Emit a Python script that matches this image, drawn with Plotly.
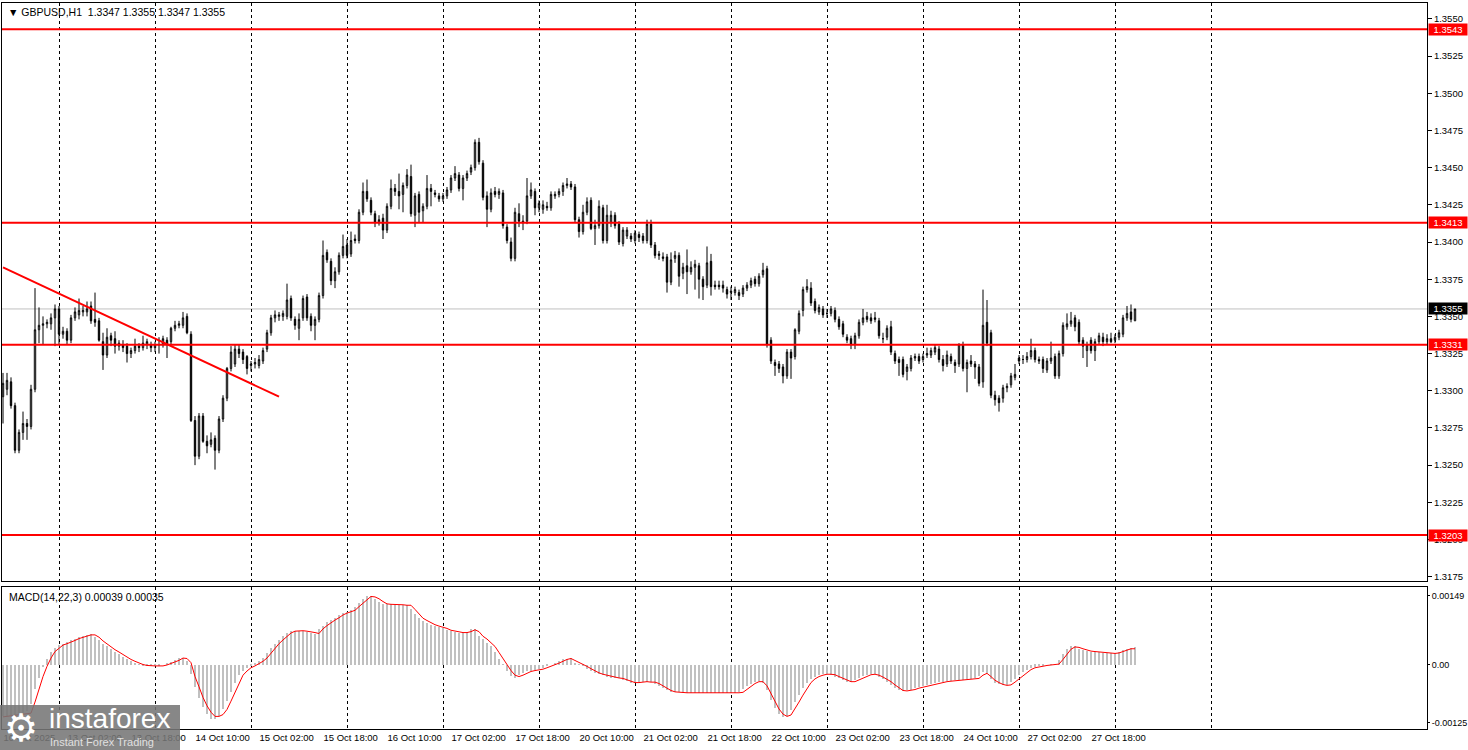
import numpy as np
import plotly.graph_objects as go

# GBPUSD H1, 10 Oct 2025 10:00 .. 28 Oct 2025 05:00 (one row per trading day)
open_ = [
    1.3296,1.3301,1.3306,1.3290,1.3260,1.3272,1.3278,1.3276,1.3301,1.3341,1.3344,1.3345,1.3345,1.3349,
    1.3355,1.3338,1.3340,1.3334,1.3349,1.3351,1.3353,1.3353,1.3357,1.3348,1.3347,1.3333,1.3324,1.3337,1.3335,1.3330,1.3331,1.3330,1.3325,1.3327,1.3330,1.3329,1.3331,1.3331,
    1.3329,1.3331,1.3331,1.3334,1.3333,1.3342,1.3344,1.3344,1.3350,1.3338,1.3280,1.3256,1.3283,1.3266,1.3264,1.3268,1.3260,1.3281,1.3295,1.3315,1.3318,1.3328,1.3326,1.3323,
    1.3317,1.3318,1.3317,1.3320,1.3328,1.3339,1.3349,1.3350,1.3350,1.3350,1.3362,1.3348,1.3342,1.3349,1.3363,1.3350,1.3344,1.3348,1.3364,1.3393,1.3387,1.3374,1.3380,1.3391,
    1.3398,1.3392,1.3402,1.3401,1.3420,1.3434,1.3428,1.3419,1.3413,1.3416,1.3408,1.3424,1.3436,1.3434,1.3432,1.3438,1.3444,1.3418,1.3432,1.3421,1.3424,1.3436,1.3433,1.3431,
    1.3429,1.3431,1.3435,1.3443,1.3445,1.3436,1.3443,1.3447,1.3450,1.3467,1.3453,1.3431,1.3422,1.3434,1.3432,1.3433,1.3410,1.3400,1.3389,1.3419,1.3414,1.3414,1.3431,1.3434,
    1.3423,1.3422,1.3424,1.3423,1.3431,1.3432,1.3434,1.3438,1.3439,1.3437,1.3415,1.3407,1.3420,1.3428,1.3409,1.3411,1.3423,1.3401,1.3413,1.3418,1.3412,1.3399,1.3404,1.3404,
    1.3401,1.3405,1.3404,1.3401,1.3412,1.3398,1.3392,1.3390,1.3390,1.3373,1.3389,1.3391,1.3379,1.3384,1.3380,1.3383,1.3384,1.3375,1.3371,1.3387,1.3371,1.3371,1.3371,1.3368,
    1.3366,1.3366,1.3366,1.3365,1.3369,1.3371,1.3375,1.3372,1.3378,1.3382,1.3334,1.3319,1.3318,1.3316,1.3310,1.3326,1.3323,1.3340,1.3354,1.3368,1.3369,1.3360,1.3353,1.3355,
    1.3352,1.3352,1.3354,1.3348,1.3345,1.3336,1.3335,1.3331,1.3337,1.3346,1.3350,1.3349,1.3349,1.3347,1.3335,1.3336,1.3343,1.3325,1.3321,1.3321,1.3313,1.3315,1.3322,1.3323,
    1.3321,1.3324,1.3324,1.3326,1.3328,1.3321,1.3318,1.3323,1.3319,1.3318,1.3331,1.3315,1.3320,1.3318,1.3316,1.3306,1.3346,1.3339,1.3297,1.3295,1.3295,1.3302,1.3304,1.3309,
    1.3322,1.3321,1.3321,1.3323,1.3327,1.3321,1.3321,1.3314,1.3320,1.3323,1.3310,1.3325,1.3343,1.3345,1.3349,1.3346,1.3334,1.3327,1.3334,1.3327,1.3333,1.3336,1.3333,1.3335,
    1.3334,1.3336,1.3338,1.3349,1.3353,1.3347,
]
high = [
    1.3312,1.3312,1.3309,1.3292,1.3274,1.3286,1.3281,1.3304,1.3369,1.3356,1.3350,1.3348,1.3352,1.3358,
    1.3357,1.3343,1.3342,1.3351,1.3356,1.3362,1.3357,1.3360,1.3360,1.3366,1.3349,1.3339,1.3342,1.3339,1.3340,1.3334,1.3334,1.3332,1.3329,1.3335,1.3332,1.3337,1.3335,1.3333,
    1.3333,1.3336,1.3337,1.3336,1.3343,1.3347,1.3347,1.3353,1.3352,1.3340,1.3283,1.3285,1.3285,1.3270,1.3272,1.3270,1.3283,1.3297,1.3316,1.3330,1.3331,1.3331,1.3328,1.3324,
    1.3320,1.3322,1.3324,1.3329,1.3341,1.3351,1.3354,1.3353,1.3354,1.3372,1.3364,1.3350,1.3352,1.3364,1.3365,1.3352,1.3350,1.3366,1.3401,1.3395,1.3389,1.3383,1.3393,1.3405,
    1.3402,1.3407,1.3405,1.3422,1.3440,1.3442,1.3430,1.3421,1.3418,1.3419,1.3426,1.3442,1.3439,1.3446,1.3440,1.3449,1.3452,1.3433,1.3434,1.3426,1.3445,1.3439,1.3435,1.3433,
    1.3433,1.3437,1.3445,1.3451,1.3447,1.3445,1.3448,1.3452,1.3469,1.3470,1.3455,1.3434,1.3436,1.3437,1.3436,1.3435,1.3412,1.3403,1.3423,1.3426,1.3418,1.3443,1.3440,1.3436,
    1.3428,1.3428,1.3427,1.3434,1.3434,1.3436,1.3440,1.3443,1.3441,1.3439,1.3417,1.3425,1.3430,1.3430,1.3415,1.3428,1.3425,1.3425,1.3421,1.3420,1.3414,1.3410,1.3410,1.3406,
    1.3408,1.3407,1.3406,1.3415,1.3415,1.3400,1.3394,1.3393,1.3392,1.3393,1.3394,1.3393,1.3386,1.3395,1.3387,1.3388,1.3386,1.3377,1.3397,1.3392,1.3374,1.3374,1.3374,1.3370,
    1.3370,1.3370,1.3368,1.3371,1.3373,1.3376,1.3377,1.3379,1.3386,1.3384,1.3336,1.3321,1.3320,1.3318,1.3328,1.3328,1.3342,1.3354,1.3370,1.3375,1.3373,1.3362,1.3358,1.3357,
    1.3355,1.3357,1.3356,1.3350,1.3347,1.3338,1.3337,1.3339,1.3348,1.3355,1.3353,1.3352,1.3353,1.3349,1.3339,1.3344,1.3347,1.3327,1.3323,1.3323,1.3318,1.3324,1.3325,1.3325,
    1.3325,1.3329,1.3329,1.3331,1.3330,1.3324,1.3327,1.3325,1.3321,1.3332,1.3333,1.3321,1.3324,1.3320,1.3318,1.3368,1.3361,1.3341,1.3300,1.3297,1.3304,1.3305,1.3312,1.3318,
    1.3324,1.3324,1.3326,1.3335,1.3329,1.3323,1.3323,1.3322,1.3333,1.3325,1.3327,1.3346,1.3352,1.3353,1.3351,1.3348,1.3336,1.3333,1.3336,1.3335,1.3339,1.3339,1.3338,1.3339,
    1.3338,1.3341,1.3351,1.3357,1.3358,1.3355,
]
low = [
    1.3278,1.3297,1.3288,1.3258,1.3258,1.3267,1.3267,1.3274,1.3299,1.3332,1.3331,1.3342,1.3341,1.3330,
    1.3331,1.3335,1.3331,1.3332,1.3347,1.3348,1.3350,1.3350,1.3345,1.3343,1.3333,1.3314,1.3322,1.3330,1.3325,1.3327,1.3326,1.3319,1.3322,1.3325,1.3326,1.3327,1.3328,1.3326,
    1.3326,1.3325,1.3329,1.3322,1.3331,1.3340,1.3342,1.3342,1.3338,1.3279,1.3250,1.3254,1.3265,1.3258,1.3262,1.3247,1.3258,1.3279,1.3293,1.3313,1.3316,1.3322,1.3318,1.3311,
    1.3313,1.3315,1.3315,1.3318,1.3326,1.3337,1.3346,1.3347,1.3347,1.3348,1.3347,1.3341,1.3334,1.3347,1.3347,1.3340,1.3334,1.3346,1.3362,1.3386,1.3371,1.3369,1.3378,1.3389,
    1.3389,1.3390,1.3399,1.3399,1.3418,1.3427,1.3418,1.3410,1.3411,1.3402,1.3406,1.3422,1.3431,1.3422,1.3420,1.3436,1.3417,1.3410,1.3413,1.3413,1.3422,1.3424,1.3430,1.3427,
    1.3427,1.3429,1.3433,1.3441,1.3434,1.3428,1.3441,1.3445,1.3448,1.3452,1.3428,1.3410,1.3420,1.3430,1.3429,1.3409,1.3399,1.3387,1.3387,1.3410,1.3408,1.3412,1.3429,1.3418,
    1.3420,1.3419,1.3421,1.3421,1.3429,1.3430,1.3431,1.3436,1.3435,1.3413,1.3403,1.3405,1.3418,1.3408,1.3398,1.3409,1.3399,1.3399,1.3410,1.3409,1.3398,1.3397,1.3402,1.3400,
    1.3399,1.3400,1.3399,1.3399,1.3396,1.3389,1.3388,1.3387,1.3366,1.3371,1.3386,1.3370,1.3375,1.3365,1.3378,1.3368,1.3362,1.3361,1.3369,1.3364,1.3368,1.3368,1.3366,1.3362,
    1.3361,1.3364,1.3361,1.3363,1.3367,1.3369,1.3370,1.3370,1.3376,1.3329,1.3318,1.3310,1.3312,1.3305,1.3308,1.3308,1.3321,1.3338,1.3350,1.3366,1.3357,1.3352,1.3351,1.3349,
    1.3349,1.3350,1.3346,1.3341,1.3336,1.3332,1.3328,1.3328,1.3335,1.3344,1.3346,1.3345,1.3346,1.3335,1.3332,1.3334,1.3324,1.3318,1.3310,1.3309,1.3307,1.3313,1.3320,1.3318,
    1.3319,1.3322,1.3322,1.3324,1.3319,1.3313,1.3316,1.3318,1.3312,1.3316,1.3313,1.3299,1.3316,1.3308,1.3303,1.3302,1.3330,1.3295,1.3290,1.3286,1.3292,1.3299,1.3302,1.3307,
    1.3318,1.3318,1.3319,1.3321,1.3319,1.3318,1.3312,1.3312,1.3318,1.3308,1.3308,1.3323,1.3341,1.3343,1.3340,1.3331,1.3322,1.3316,1.3325,1.3320,1.3331,1.3330,1.3331,1.3332,
    1.3332,1.3334,1.3336,1.3347,1.3346,1.3347,
]
close = [
    1.3305,1.3307,1.3290,1.3260,1.3272,1.3278,1.3276,1.3301,1.3341,1.3344,1.3345,1.3346,1.3349,1.3355,
    1.3338,1.3340,1.3334,1.3349,1.3353,1.3354,1.3354,1.3355,1.3347,1.3346,1.3334,1.3324,1.3336,1.3334,1.3330,1.3332,1.3329,1.3325,1.3327,1.3330,1.3329,1.3332,1.3333,1.3329,
    1.3331,1.3331,1.3335,1.3331,1.3342,1.3344,1.3345,1.3349,1.3339,1.3280,1.3256,1.3283,1.3266,1.3263,1.3267,1.3260,1.3281,1.3295,1.3315,1.3326,1.3328,1.3325,1.3321,1.3315,
    1.3318,1.3319,1.3321,1.3327,1.3339,1.3349,1.3351,1.3351,1.3352,1.3361,1.3349,1.3344,1.3348,1.3362,1.3349,1.3344,1.3348,1.3364,1.3391,1.3388,1.3374,1.3380,1.3391,1.3397,
    1.3391,1.3401,1.3401,1.3420,1.3434,1.3429,1.3420,1.3413,1.3415,1.3408,1.3424,1.3436,1.3434,1.3431,1.3438,1.3445,1.3419,1.3431,1.3420,1.3424,1.3436,1.3434,1.3432,1.3429,
    1.3431,1.3435,1.3443,1.3446,1.3436,1.3443,1.3446,1.3450,1.3467,1.3454,1.3430,1.3422,1.3433,1.3432,1.3434,1.3411,1.3401,1.3389,1.3420,1.3414,1.3413,1.3431,1.3435,1.3423,
    1.3426,1.3425,1.3423,1.3432,1.3432,1.3434,1.3438,1.3439,1.3437,1.3415,1.3407,1.3420,1.3427,1.3409,1.3411,1.3424,1.3401,1.3418,1.3418,1.3411,1.3400,1.3408,1.3408,1.3402,
    1.3406,1.3403,1.3401,1.3412,1.3398,1.3391,1.3391,1.3389,1.3373,1.3388,1.3391,1.3377,1.3383,1.3380,1.3383,1.3385,1.3375,1.3370,1.3386,1.3370,1.3370,1.3370,1.3369,1.3365,
    1.3367,1.3368,1.3364,1.3369,1.3371,1.3374,1.3372,1.3377,1.3381,1.3331,1.3320,1.3317,1.3315,1.3310,1.3326,1.3322,1.3341,1.3352,1.3368,1.3370,1.3359,1.3354,1.3356,1.3351,
    1.3352,1.3355,1.3348,1.3343,1.3338,1.3334,1.3331,1.3337,1.3346,1.3349,1.3348,1.3347,1.3348,1.3337,1.3335,1.3342,1.3326,1.3320,1.3319,1.3311,1.3316,1.3322,1.3323,1.3320,
    1.3323,1.3325,1.3327,1.3329,1.3321,1.3317,1.3324,1.3320,1.3317,1.3331,1.3315,1.3319,1.3318,1.3316,1.3305,1.3344,1.3332,1.3297,1.3294,1.3292,1.3302,1.3303,1.3310,1.3311,
    1.3320,1.3321,1.3323,1.3327,1.3321,1.3320,1.3315,1.3320,1.3322,1.3310,1.3325,1.3344,1.3345,1.3347,1.3343,1.3333,1.3330,1.3331,1.3327,1.3333,1.3337,1.3333,1.3335,1.3333,
    1.3336,1.3339,1.3349,1.3352,1.3348,1.3355,
]

# MACD(14,22,3), values in 1e-5
macd_main_e5 = [
    -111,-110,-109,-108,-106,-105,-100,-85,-52,-27,-5,14,28,36,
    43,46,49,53,57,60,63,65,66,61,53,46,40,34,28,23,18,13,8,4,1,-1,-2,-2,
    -2,-2,0,3,6,10,15,16,8,-20,-47,-72,-90,-105,-116,-117,-110,-96,-78,-58,-38,-22,-13,-6,
    -2,3,8,15,26,36,46,54,62,69,73,74,74,73,72,70,67,78,85,92,97,102,108,112,
    115,118,126,134,142,148,149,143,137,132,131,131,130,130,129,129,121,110,101,96,91,87,84,82,
    79,75,73,71,70,70,72,77,78,62,56,48,40,27,14,2,-12,-23,-27,-22,-18,-14,-12,-11,
    -9,-6,-3,0,4,8,12,14,15,5,1,-3,-8,-13,-17,-20,-22,-25,-27,-28,-29,-32,-35,-38,
    -38,-37,-36,-37,-37,-40,-45,-50,-55,-58,-59,-59,-60,-60,-60,-60,-60,-60,-61,-61,-61,-61,-61,-61,
    -61,-60,-59,-52,-45,-40,-36,-35,-38,-55,-75,-92,-105,-113,-110,-97,-80,-65,-50,-38,-30,-25,-22,-20,
    -20,-21,-25,-29,-33,-36,-37,-32,-28,-24,-21,-20,-20,-26,-31,-36,-43,-50,-55,-57,-55,-53,-50,-48,
    -46,-43,-41,-39,-37,-36,-35,-34,-33,-32,-32,-31,-30,-29,-24,-16,-18,-30,-38,-42,-44,-44,-37,-30,
    -22,-16,-10,-6,-4,-2,-1,0,1,2,10,24,34,40,40,35,32,30,29,28,27,26,25,25,
    26,29,33,35,37,39,
]
macd_signal_e5 = [
    -112,-111,-110,-109,-107,-106,-105,-104,-80,-50,-25,-3,15,29,
    36,43,46,49,53,57,60,63,65,65,60,52,45,39,33,28,22,17,12,8,4,1,-1,-2,
    -2,-2,-2,0,3,6,10,15,14,5,-25,-47,-70,-88,-102,-111,-111,-107,-96,-78,-58,-38,-22,-13,
    -6,-2,3,8,15,26,36,46,54,62,69,73,74,74,73,72,70,68,78,85,92,97,102,108,
    112,115,118,126,134,142,148,147,143,137,132,131,131,130,130,129,129,120,110,101,96,91,87,84,
    82,79,75,73,71,70,70,72,76,72,62,56,48,40,27,14,2,-12,-22,-25,-22,-18,-14,-12,
    -11,-9,-6,-3,0,4,8,12,14,10,5,1,-3,-8,-13,-17,-20,-22,-25,-27,-28,-29,-32,-35,
    -38,-38,-37,-36,-37,-37,-40,-45,-50,-55,-58,-59,-59,-60,-60,-60,-60,-60,-60,-61,-61,-61,-61,-61,
    -61,-61,-60,-59,-52,-45,-40,-36,-36,-45,-62,-78,-95,-106,-111,-108,-95,-80,-65,-50,-38,-30,-25,-22,
    -20,-20,-21,-25,-29,-33,-36,-36,-32,-28,-24,-21,-20,-22,-26,-31,-36,-43,-50,-55,-56,-55,-53,-50,
    -48,-46,-43,-41,-39,-37,-36,-35,-34,-33,-32,-32,-31,-30,-29,-22,-18,-25,-33,-38,-42,-44,-43,-37,
    -30,-22,-16,-10,-6,-4,-2,-1,0,1,2,12,24,34,39,38,35,32,30,29,28,27,26,25,
    25,26,29,33,35,35,
]

for arr in (open_, high, low, close, macd_main_e5, macd_signal_e5):
    assert len(arr) == 284, len(arr)

levels = [1.3543, 1.3413, 1.3331, 1.3203]
bid = 1.3355
trend_x = [0, 69]
trend_y = [1.3383, 1.3296]

price_ticks = [1.3550, 1.3525, 1.3500, 1.3475, 1.3450, 1.3425, 1.3400, 1.3375,
               1.3350, 1.3325, 1.3300, 1.3275, 1.3250, 1.3225, 1.3200, 1.3175]
label_idx = [0, 16, 32, 48, 64, 80, 96, 112, 128, 144, 160, 176, 192, 208, 224, 240, 256, 272]
time_labels = ["10 Oct 2025", "13 Oct 02:00", "13 Oct 18:00", "14 Oct 10:00", "15 Oct 02:00",
               "15 Oct 18:00", "16 Oct 10:00", "17 Oct 02:00", "17 Oct 18:00", "20 Oct 10:00",
               "21 Oct 02:00", "21 Oct 18:00", "22 Oct 10:00", "23 Oct 02:00", "23 Oct 18:00",
               "24 Oct 10:00", "27 Oct 02:00", "27 Oct 18:00"]
day_idx = [14, 38, 62, 86, 110, 134, 158, 182, 206, 230, 254, 278, 302]

bars = np.arange(len(close))
macd_main = np.array(macd_main_e5) / 1e5
macd_signal = np.array(macd_signal_e5) / 1e5

FONT = "Liberation Sans, Arial, sans-serif"

fig = go.Figure()
fig.add_trace(go.Candlestick(
    x=bars, open=open_, high=high, low=low, close=close,
    increasing=dict(line=dict(color="black", width=1), fillcolor="white"),
    decreasing=dict(line=dict(color="black", width=1), fillcolor="black"),
    xaxis="x", yaxis="y", showlegend=False, hoverinfo="skip"))
fig.add_trace(go.Scatter(x=trend_x, y=trend_y, mode="lines",
                         line=dict(color="#ff0000", width=2),
                         xaxis="x", yaxis="y", showlegend=False, hoverinfo="skip"))
fig.add_trace(go.Bar(x=bars, y=macd_main, width=0.5,
                     marker=dict(color="#c0c0c0", line=dict(width=0)),
                     xaxis="x2", yaxis="y2", showlegend=False, hoverinfo="skip"))
fig.add_trace(go.Scatter(x=bars, y=macd_signal, mode="lines",
                         line=dict(color="#ff0000", width=1),
                         xaxis="x2", yaxis="y2", showlegend=False, hoverinfo="skip"))

# уровни и линия bid
shapes = [dict(type="line", xref="paper", x0=0, x1=1, yref="y", y0=bid, y1=bid,
               line=dict(color="#c0c0c0", width=1), layer="below")]
for lv in levels:
    shapes.append(dict(type="line", xref="paper", x0=0, x1=1, yref="y", y0=lv, y1=lv,
                       line=dict(color="#ff0000", width=2), layer="above"))
# логотип
shapes.append(dict(type="rect", xref="paper", yref="paper",
                   x0=-2/1425, x1=178/1425, y0=-21/726, y1=24/726,
                   fillcolor="rgba(118,118,118,0.88)", line=dict(width=0), layer="above"))

annotations = [
    dict(xref="paper", yref="paper", x=0, y=1, xanchor="left", yanchor="top",
         xshift=4, yshift=-1, showarrow=False,
         text="▼ GBPUSD,H1\u00a0\u00a01.3347 1.3355 1.3347 1.3355",
         font=dict(family=FONT, size=10.5, color="black")),
    dict(xref="paper", yref="paper", x=0, y=142/726, xanchor="left", yanchor="top",
         xshift=5, yshift=-2, showarrow=False,
         text="MACD(14,22,3) 0.00039 0.00035",
         font=dict(family=FONT, size=10.5, color="black")),
]
for lv in levels:
    annotations.append(dict(xref="paper", x=1, xanchor="left", xshift=1, yref="y", y=lv,
                            yanchor="middle", text=f"{lv:.4f}", showarrow=False,
                            bgcolor="#ff0000", width=38, height=11, borderpad=0,
                            font=dict(family=FONT, size=9.5, color="white")))
annotations.append(dict(xref="paper", x=1, xanchor="left", xshift=1, yref="y", y=bid,
                        yanchor="middle", text=f"{bid:.4f}", showarrow=False,
                        bgcolor="black", width=38, height=11, borderpad=0,
                        font=dict(family=FONT, size=9.5, color="white")))
annotations += [
    dict(xref="paper", yref="paper", x=0, y=0, xanchor="left", yanchor="middle",
         xshift=0, yshift=1, showarrow=False, text="⚙",
         font=dict(family="DejaVu Sans", size=38, color="white")),
    dict(xref="paper", yref="paper", x=0, y=0, xanchor="left", yanchor="middle",
         xshift=45, yshift=11, showarrow=False, text="instaforex",
         font=dict(family=FONT, size=28, color="white")),
    dict(xref="paper", yref="paper", x=0, y=0, xanchor="left", yanchor="middle",
         xshift=46, yshift=-13, showarrow=False, text="Instant Forex Trading",
         font=dict(family=FONT, size=11, color="#e0e0e0")),
]

axis_common = dict(showline=True, linecolor="black", linewidth=1, mirror=True,
                   zeroline=False, showgrid=False, automargin=False)
minor_grid = dict(tickmode="array", tickvals=day_idx, showgrid=True, gridcolor="black",
                  griddash="dot", gridwidth=1, ticks="")

fig.update_layout(
    template="none",
    width=1468, height=750,
    margin=dict(l=2, r=41, t=3, b=21),
    paper_bgcolor="white", plot_bgcolor="white",
    font=dict(family=FONT, size=9.5, color="black"),
    showlegend=False, boxgap=0.5, bargap=0,
    shapes=shapes, annotations=annotations,
    xaxis=dict(domain=[0, 1], anchor="y", range=[-0.25, 356], showticklabels=False,
               ticks="", rangeslider=dict(visible=False), minor=minor_grid, **axis_common),
    yaxis=dict(domain=[148/726, 1], anchor="x", side="right",
               range=[1.3400 - 339/14876, 1.3400 + 239/14876],
               tickmode="array", tickvals=price_ticks,
               ticktext=[f"{t:.4f}" for t in price_ticks],
               ticks="outside", ticklen=4, tickcolor="black",
               tickfont=dict(family=FONT, size=9.5, color="black"), **axis_common),
    xaxis2=dict(domain=[0, 1], anchor="y2", matches="x",
                tickmode="array", tickvals=label_idx, ticktext=time_labels,
                ticklabelposition="outside right", ticks="",
                tickfont=dict(family=FONT, size=9.5, color="black"),
                minor=minor_grid, **axis_common),
    yaxis2=dict(domain=[0, 142/726], anchor="x2", side="right",
                range=[-0.001382, 0.001684],
                tickmode="array", tickvals=[0.00149, 0.0, -0.00125],
                ticktext=["0.00149", "0.00", "-0.00125"],
                ticks="outside", ticklen=2, tickcolor="black",
                tickfont=dict(family=FONT, size=9, color="black"), **axis_common),
)

fig.write_html("out.html", config={"displayModeBar": False},
               post_script="document.body.style.margin='0';")
